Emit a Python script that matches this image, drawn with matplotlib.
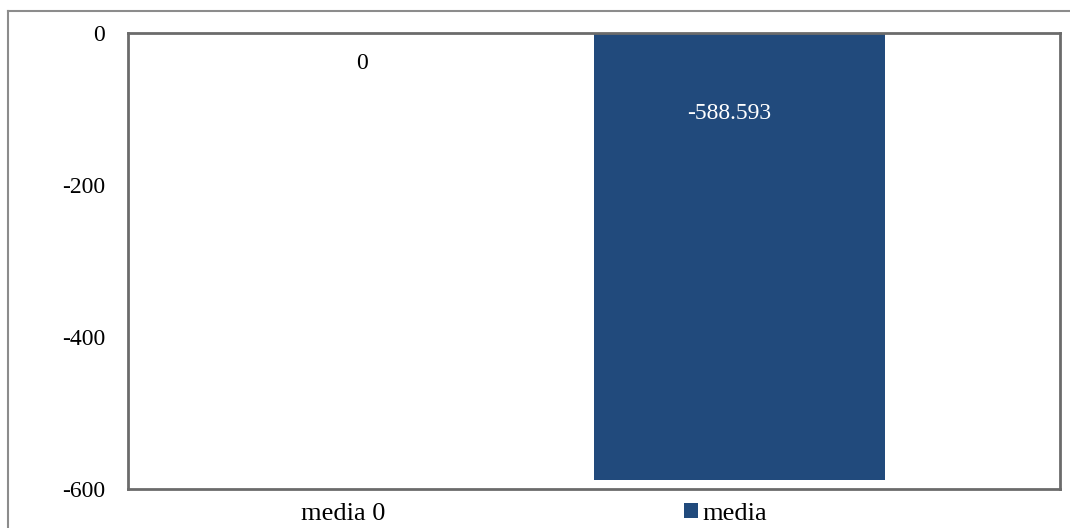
import matplotlib.pyplot as plt
from matplotlib.lines import Line2D

plt.rcParams['font.family'] = ['Liberation Serif', 'DejaVu Serif']

# Datos
posiciones = [0, 1]
valores = [0, -588.593]
etiquetas_valor = ['0', '-588.593']
categoria = 'media 0'
serie = 'media'
yticks = [0, -200, -400, -600]

W, H = 1070, 528
fig = plt.figure(figsize=(W / 100, H / 100), dpi=100)

# Área del gráfico en píxeles
x0, y0, x1, y1 = 128, 33, 1060, 489
ax = fig.add_axes([x0 / W, 1 - y1 / H, (x1 - x0) / W, (y1 - y0) / H])

color_barra = '#214a7c'
barras = ax.bar(posiciones[1:], valores[1:], width=0.77, color=color_barra,
                label=serie)

ax.set_ylim(-600, 0)
ax.set_xlim(-0.62, 1.85)
ax.set_yticks(yticks)
ax.set_yticklabels([str(v) for v in yticks], fontsize=17)
ax.set_xticks([posiciones[0] - 0.05])
ax.set_xticklabels([categoria], fontsize=19)
ax.tick_params(axis='y', length=0, pad=16.5)
ax.tick_params(axis='x', length=0, pad=10)

for s in ax.spines.values():
    s.set_color('#6b6b6b')
    s.set_linewidth(2)

# Etiquetas de valor
ax.text(posiciones[0], -40, etiquetas_valor[0], ha='center', va='center',
        fontsize=17, color='black')
ax.text(posiciones[1] - 0.027, -106, etiquetas_valor[1], ha='center', va='center',
        fontsize=17, color='white')

# Leyenda
ax.legend(handles=[barras], loc='center', bbox_to_anchor=(725.5 / W, 1 - 514 / H),
          bbox_transform=fig.transFigure, frameon=False, fontsize=19,
          handlelength=0.53, handleheight=0.53, handletextpad=0.19,
          borderpad=0, borderaxespad=0)

# Marco exterior
fig.add_artist(Line2D([8 / W, 1], [1 - 11 / H, 1 - 11 / H], color='#8c8c8c', lw=1.5))
fig.add_artist(Line2D([8 / W, 8 / W], [0, 1 - 11 / H], color='#8c8c8c', lw=1.5))

fig.savefig('out.png', dpi=100)
